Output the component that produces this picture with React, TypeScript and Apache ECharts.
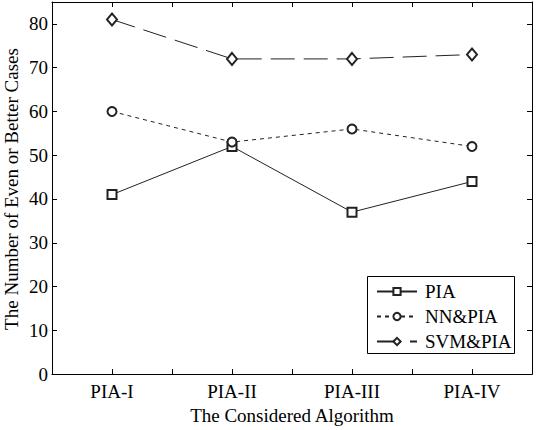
import React, { useEffect, useRef } from "react";
import * as echarts from "echarts";

const categories = ["PIA-I", "PIA-II", "PIA-III", "PIA-IV"];
const piaValues = [41, 52, 37, 44];
const nnPiaValues = [60, 53, 56, 52];
const svmPiaValues = [81, 72, 72, 73];
const seriesNames = ["PIA", "NN&PIA", "SVM&PIA"];
const yAxisTitle = "The Number of Even or Better Cases";
const xAxisTitle = "The Considered Algorithm";

const FONT = "'Liberation Serif', 'Times New Roman', serif";
const FS = 19;

export default function App() {
  const ref = useRef<HTMLDivElement>(null);
  useEffect(() => {
    if (!ref.current) return;
    const chart = echarts.init(ref.current, undefined, { renderer: "svg" });
    const toPairs = (vals: number[]) => vals.map((v, i) => [i + 1, v]);
    const axisCommon = {
      axisLine: { show: true, onZero: false, lineStyle: { color: "#000", width: 1 } },
      axisTick: { show: true, inside: true, length: 5, lineStyle: { color: "#000", width: 1 } },
      splitLine: { show: false },
    };
    const xLabel = (v: number) =>
      Number.isInteger(v) && v >= 1 && v <= categories.length ? categories[v - 1] : "";
    const yLabel = (v: number) => (v % 10 === 0 ? String(v) : "");
    const lineColor = "#222";
    chart.setOption({
      animation: false,
      backgroundColor: "#fff",
      textStyle: { fontFamily: FONT },
      grid: { left: 52, top: 2, right: 6, bottom: 49 },
      xAxis: [
        {
          type: "value",
          min: 0.5,
          max: 4.5,
          interval: 0.5,
          position: "bottom",
          ...axisCommon,
          axisLabel: { formatter: xLabel, color: "#000", fontSize: FS, fontFamily: FONT, margin: 8 },
          name: xAxisTitle,
          nameLocation: "middle",
          nameGap: 30,
          nameTextStyle: { color: "#000", fontSize: FS, fontFamily: FONT },
        },
        {
          type: "value",
          min: 0.5,
          max: 4.5,
          interval: 0.5,
          position: "top",
          ...axisCommon,
          axisLabel: { show: false },
        },
      ],
      yAxis: [
        {
          type: "value",
          min: 0,
          max: 85,
          interval: 10,
          position: "left",
          ...axisCommon,
          axisLabel: { formatter: yLabel, color: "#000", fontSize: FS, fontFamily: FONT, margin: 4 },
        },
        {
          type: "value",
          min: 0,
          max: 85,
          interval: 10,
          position: "right",
          ...axisCommon,
          axisLabel: { show: false },
        },
      ],
      legend: {
        orient: "vertical",
        left: 376,
        top: 282,
        padding: 0,
        itemWidth: 40,
        itemHeight: 9,
        itemGap: 6,
        textStyle: { color: "#000", fontSize: FS, fontFamily: FONT, lineHeight: 19, padding: [0, 0, 0, 3] },
        data: seriesNames,
      },
      graphic: [
        {
          type: "rect",
          shape: { x: 367.5, y: 276.5, width: 147, height: 77 },
          style: { fill: "none", stroke: "#000", lineWidth: 1 },
          z: 100,
        },
        {
          type: "text",
          x: 11,
          y: 189,
          rotation: Math.PI / 2,
          style: {
            text: yAxisTitle,
            fill: "#000",
            font: `${FS}px ${FONT}`,
            align: "center",
            verticalAlign: "middle",
          },
          z: 100,
        },
      ],
      series: [
        {
          name: seriesNames[0],
          type: "line",
          data: toPairs(piaValues),
          symbol: "emptyRect",
          symbolSize: 9,
          color: lineColor,
          lineStyle: { color: lineColor, width: 1, type: "solid" },
          itemStyle: { color: lineColor, borderColor: lineColor, borderWidth: 1 },
        },
        {
          name: seriesNames[1],
          type: "line",
          data: toPairs(nnPiaValues),
          symbol: "emptyCircle",
          symbolSize: 9,
          color: lineColor,
          lineStyle: { color: lineColor, width: 1, type: [4, 4] },
          itemStyle: { color: lineColor, borderColor: lineColor, borderWidth: 1 },
        },
        {
          name: seriesNames[2],
          type: "line",
          data: toPairs(svmPiaValues),
          symbol: "emptyDiamond",
          symbolSize: [10, 12],
          color: lineColor,
          lineStyle: { color: lineColor, width: 1, type: [24, 9] },
          itemStyle: { color: lineColor, borderColor: lineColor, borderWidth: 1 },
        },
      ],
    });
    return () => chart.dispose();
  }, []);
  return <div ref={ref} style={{ width: 538, height: 430, position: "absolute", left: 0, top: 0 }} />;
}
